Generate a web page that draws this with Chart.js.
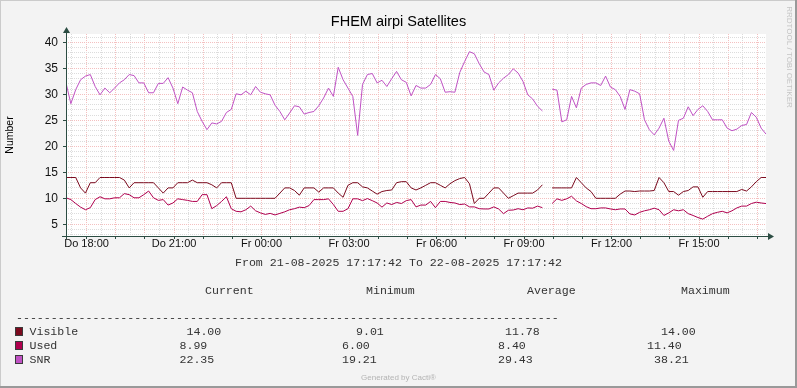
<!DOCTYPE html>
<html>
<head>
<meta charset="utf-8">
<script src="https://cdn.jsdelivr.net/npm/chart.js@4.4.1/dist/chart.umd.min.js"></script>
<style>
  html, body { margin: 0; padding: 0; background: #f3f3f3; }
  canvas { display: block; }
</style>
</head>
<body>
<canvas id="chart" width="797" height="388"></canvas>
<script>
// time axis: minutes since Thursday 00:00, one sample every 10 minutes
const startMinute = 17 * 60 + 17 + 42 / 60;   // Do 17:17:42
const spanMinutes = 24 * 60;
const stepMinutes = 10;

const visible = [
  14, 14, 14, 12, 11, 13, 13, 14, 14, 14,
  14, 14, 13.5, 12, 13, 13, 13, 13, 13, 12,
  11, 12, 12, 13, 13, 13, 13.5, 13, 13, 13,
  12.6, 12, 13, 13, 13, 10, 10, 10, 10, 10,
  10, 10, 10, 10, 11, 12, 12, 11.5, 10.6, 12,
  12, 12, 11.2, 12, 12, 12, 11, 10.2, 12.5, 13,
  13, 12.2, 12, 11.4, 10.8, 11.3, 11.5, 11.6, 13, 13.2,
  13.2, 12, 11.6, 12, 12.5, 13, 13, 12.5, 12, 12.8,
  13.4, 13.8, 14, 12.8, 9.0, 10, 10, 11, 12, 12,
  11, 10, 10.5, 11, 11, 11, 11, 11.6, 12.6, null,
  12, 12, 12, 12, 12, 14, 13, 12, 11.3, 10,
  10, 10, 10, 10, 10.8, 11.4, 11.4, 11.3, 11.4, 11.4,
  11.4, 11.5, 14, 13, 11.3, 11.3, 10.6, 11.3, 11.5, 12.2,
  12.2, 10.2, 11.3, 11.3, 11.3, 11.3, 11.3, 11.3, 11.3, 11.7,
  11.4, 12.2, 13.2, 14, 14
];

const used = [
  10.1, 9.75, 9.0, 8.3, 7.8, 8.2, 9.75, 10.3, 9.9, 9.9,
  10.1, 10.1, 10.9, 10.7, 10.1, 10.1, 10.7, 11.4, 10.1, 9.6,
  9.75, 8.7, 9.1, 9.9, 9.75, 9.6, 9.4, 9.4, 10.7, 10.7,
  8.0, 8.6, 9.4, 10.3, 8.0, 7.5, 7.4, 7.8, 8.5, 7.6,
  7.2, 6.9, 7.1, 6.8, 7.1, 7.4, 7.8, 8.0, 8.3, 8.2,
  8.6, 9.75, 9.75, 9.75, 9.9, 8.8, 7.5, 7.5, 8.0, 9.9,
  9.9, 9.55, 9.95, 9.55, 9.1, 8.3, 9.1, 8.8, 9.2, 9.0,
  9.55, 9.75, 8.35, 8.7, 8.7, 9.4, 8.2, 9.4, 9.4, 9.2,
  9.1, 8.8, 8.9, 8.35, 8.35, 8.0, 7.95, 7.95, 8.35, 7.95,
  7.05, 7.7, 7.75, 8.0, 7.8, 8.15, 8.1, 8.5, 8.2, null,
  9.0, 9.9, 9.6, 9.9, 10.4, 9.5, 9.0, 8.4, 8.0, 8.0,
  8.15, 8.15, 7.95, 7.8, 7.95, 7.95, 7.0, 6.8, 7.3, 7.6,
  7.8, 8.1, 7.8, 6.7, 7.2, 7.8, 7.6, 7.8, 7.05, 6.7,
  6.3, 6.0, 6.55, 7.05, 7.3, 7.5, 7.2, 7.6, 8.15, 8.5,
  8.5, 9.0, 9.25, 9.1, 8.99
];

const snr = [
  32.2, 28.2, 30.9, 32.8, 33.5, 33.8, 31.5, 29.9, 31.2, 30.3,
  31.2, 32.2, 32.8, 33.8, 33.6, 32.2, 32.2, 30.3, 30.3, 32.1,
  32.1, 33.2, 31.2, 28.2, 31.4, 30.8, 30.3, 26.7, 24.8, 23.2,
  24.5, 24.3, 24.8, 26.5, 27.1, 30.1, 29.9, 30.6, 29.9, 31.5,
  30.4, 30.1, 29.9, 27.9, 26.7, 25.1, 26.4, 27.8, 27.6, 26.2,
  26.5, 26.7, 27.8, 29.3, 31.2, 29.6, 35.2, 32.8, 31.2, 29.6,
  22.1, 31.9, 33.8, 34.0, 32.2, 32.7, 31.5, 33.0, 34.4, 32.8,
  32.3, 29.7, 31.7, 31.2, 31.2, 31.9, 33.8, 33.0, 30.4, 30.5,
  30.4, 34.2, 36.3, 38.2, 37.8, 35.9, 34.3, 33.8, 30.8, 32.2,
  33.1, 33.8, 34.9, 34.1, 32.5, 29.9, 29.1, 27.7, 26.8, null,
  31.0, 30.8, 24.7, 25.1, 29.6, 27.4, 31.2, 31.9, 32.2, 32.2,
  31.7, 33.5, 31.4, 30.9, 29.6, 27.1, 30.9, 30.6, 30.1, 25.1,
  23.2, 22.2, 23.5, 25.4, 21.0, 19.2, 25.0, 25.4, 27.6, 25.9,
  27.1, 27.8, 26.7, 25.1, 25.1, 25.1, 23.5, 23.0, 23.3, 24.0,
  24.2, 26.5, 25.6, 23.5, 22.35
];

const tickMinutes = [1080, 1260, 1440, 1620, 1800, 1980, 2160, 2340];
const tickLabels = ['Do 18:00', 'Do 21:00', 'Fr 00:00', 'Fr 03:00', 'Fr 06:00', 'Fr 09:00', 'Fr 12:00', 'Fr 15:00'];
const yMin = 2.75;
const yMax = 41.6;

const seriesNames = ['Visible', 'Used', 'SNR'];
const seriesColors = ['#7c0a1e', '#b0004e', '#c052c4'];
const currentVals = ['14.00', '8.99', '22.35'];
const minimumVals = ['9.01', '6.00', '19.21'];
const averageVals = ['11.78', '8.40', '29.43'];
const maximumVals = ['14.00', '11.40', '38.21'];

const axisColor = '#2c4d43';
const majorGrid = '#f4c0c0';
const minorGrid = '#dcdcdc';

function toPoints(values) {
    return values.map((v, i) => ({ x: startMinute + i * stepMinutes, y: v }));
}

// --- background, axes with arrows and the rrdtool style texts ---
const rrdDecor = {
    id: 'rrdDecor',
    beforeDraw(chart) {
        const { ctx, chartArea: a, width, height } = chart;
        ctx.save();
        ctx.fillStyle = '#f3f3f3';
        ctx.fillRect(0, 0, width, height);
        ctx.fillStyle = '#ffffff';
        ctx.fillRect(a.left, a.top, a.right - a.left, a.bottom - a.top);
        // shaded frame
        ctx.fillStyle = '#cbcbcb';
        ctx.fillRect(0, 0, width, 1);
        ctx.fillRect(0, 0, 1, height);
        ctx.fillStyle = '#999999';
        ctx.fillRect(0, height - 2, width, 2);
        ctx.fillRect(width - 2, 0, 2, height);
        ctx.restore();
    },
    afterDraw(chart) {
        const { ctx, chartArea: a, width } = chart;
        ctx.save();

        // axes
        ctx.strokeStyle = axisColor;
        ctx.fillStyle = axisColor;
        ctx.lineWidth = 1;
        ctx.beginPath();
        ctx.moveTo(a.left + 0.5, a.bottom + 3);
        ctx.lineTo(a.left + 0.5, a.top - 3);
        ctx.moveTo(a.left - 4, a.bottom + 0.5);
        ctx.lineTo(a.right + 4, a.bottom + 0.5);
        ctx.stroke();
        ctx.beginPath();
        ctx.moveTo(a.left + 0.5, a.top - 7);
        ctx.lineTo(a.left - 3, a.top - 1);
        ctx.lineTo(a.left + 4, a.top - 1);
        ctx.closePath();
        ctx.fill();
        ctx.beginPath();
        ctx.moveTo(a.right + 8, a.bottom + 0.5);
        ctx.lineTo(a.right + 2, a.bottom - 3);
        ctx.lineTo(a.right + 2, a.bottom + 4);
        ctx.closePath();
        ctx.fill();

        // title
        ctx.fillStyle = '#000';
        ctx.textAlign = 'center';
        ctx.textBaseline = 'middle';
        ctx.font = '14.5px "Liberation Sans", Arial, sans-serif';
        ctx.fillText('FHEM airpi Satellites', width / 2, 22);

        // vertical axis title
        ctx.save();
        ctx.translate(10, (a.top + a.bottom) / 2);
        ctx.rotate(-Math.PI / 2);
        ctx.font = '10.5px "Liberation Sans", Arial, sans-serif';
        ctx.fillText('Number', 0, 0);
        ctx.restore();

        // watermark on the right
        ctx.save();
        ctx.translate(789, 57);
        ctx.rotate(Math.PI / 2);
        ctx.fillStyle = '#c4c4c4';
        ctx.font = '8px "Liberation Sans", Arial, sans-serif';
        ctx.fillText('RRDTOOL / TOBI OETIKER', 0, 0);
        ctx.restore();

        // period line
        ctx.font = '11.6px "Liberation Mono", monospace';
        ctx.fillStyle = '#333';
        ctx.fillText('From 21-08-2025 17:17:42 To 22-08-2025 17:17:42', width / 2, 263);

        // legend table
        ctx.textAlign = 'left';
        const headX = [205, 366, 527, 681];
        ['Current', 'Minimum', 'Average', 'Maximum'].forEach((h, i) => ctx.fillText(h, headX[i], 291));
        ctx.fillText('-'.repeat(78), 16, 318);

        const rowY = [332, 346, 360];
        const colX = [
            [186.5, 356, 505, 661],
            [179.5, 342, 498, 647],
            [179.5, 342, 498, 654]
        ];
        seriesNames.forEach((name, r) => {
            const y = rowY[r];
            ctx.fillStyle = seriesColors[r];
            ctx.fillRect(15, y - 5, 8, 9);
            ctx.strokeStyle = '#3a3a3a';
            ctx.strokeRect(15.5, y - 4.5, 7, 8);
            ctx.fillStyle = '#333';
            ctx.fillText(name, 29.5, y);
            const vals = [currentVals[r], minimumVals[r], averageVals[r], maximumVals[r]];
            vals.forEach((v, c) => ctx.fillText(v, colX[r][c], y));
        });

        // footer
        ctx.textAlign = 'center';
        ctx.fillStyle = '#b4b4b4';
        ctx.font = '8px "Liberation Sans", Arial, sans-serif';
        ctx.fillText('Generated by Cacti\u00ae', width / 2, 378);

        ctx.restore();
    }
};

const chart = new Chart(document.getElementById('chart'), {
    type: 'line',
    data: {
        datasets: [
            {
                label: 'SNR',
                data: toPoints(snr),
                borderColor: seriesColors[2],
                borderWidth: 1,
                pointRadius: 0,
                spanGaps: false
            },
            {
                label: 'Used',
                data: toPoints(used),
                borderColor: seriesColors[1],
                borderWidth: 1,
                pointRadius: 0,
                spanGaps: false
            },
            {
                label: 'Visible',
                data: toPoints(visible),
                borderColor: seriesColors[0],
                borderWidth: 1,
                pointRadius: 0,
                spanGaps: false
            }
        ]
    },
    options: {
        responsive: false,
        animation: false,
        devicePixelRatio: 1,
        layout: { padding: { left: 0, top: 34, right: 31, bottom: 0 } },
        plugins: {
            legend: { display: false },
            title: { display: false },
            tooltip: { enabled: false }
        },
        scales: {
            x: {
                type: 'linear',
                min: startMinute,
                max: startMinute + spanMinutes,
                afterBuildTicks: (scale) => {
                    const ticks = [];
                    for (let m = 1050; m < startMinute + spanMinutes; m += 30) ticks.push({ value: m });
                    scale.ticks = ticks;
                },
                afterFit: (scale) => { scale.height = 152; },
                border: { display: false, dash: [1, 1] },
                grid: {
                    color: (ctx) => (ctx.tick && ctx.tick.value % 60 === 0 ? majorGrid : minorGrid),
                    lineWidth: 1,
                    tickLength: 3,
                    tickColor: (ctx) => (ctx.tick && ctx.tick.value % 60 === 0 ? axisColor : 'rgba(0,0,0,0)')
                },
                ticks: {
                    autoSkip: false,
                    maxRotation: 0,
                    minRotation: 0,
                    padding: -2,
                    color: '#111',
                    font: { family: '"Liberation Sans", Arial, sans-serif', size: 11 },
                    callback: (value) => {
                        const k = tickMinutes.indexOf(value);
                        return k >= 0 ? tickLabels[k] : '';
                    }
                }
            },
            y: {
                type: 'linear',
                min: yMin,
                max: yMax,
                afterBuildTicks: (scale) => {
                    const ticks = [];
                    for (let v = 3; v <= 41; v++) ticks.push({ value: v });
                    scale.ticks = ticks;
                },
                afterFit: (scale) => { scale.width = 66; },
                border: { display: false, dash: [1, 1] },
                grid: {
                    color: (ctx) => (ctx.tick && ctx.tick.value % 5 === 0 ? majorGrid : minorGrid),
                    lineWidth: 1,
                    tickLength: 3,
                    tickColor: (ctx) => (ctx.tick && ctx.tick.value % 5 === 0 ? axisColor : 'rgba(0,0,0,0)')
                },
                ticks: {
                    autoSkip: false,
                    padding: 5,
                    color: '#111',
                    font: { family: '"Liberation Sans", Arial, sans-serif', size: 12 },
                    callback: (value) => (value % 5 === 0 ? String(value) : '')
                }
            }
        }
    },
    plugins: [rrdDecor]
});
</script>
</body>
</html>
